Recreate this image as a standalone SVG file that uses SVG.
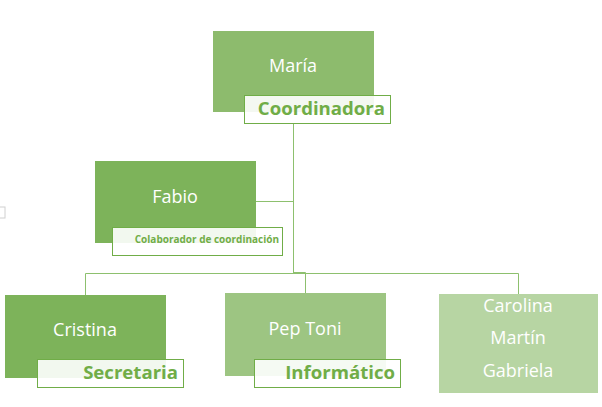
<svg xmlns="http://www.w3.org/2000/svg" width="602" height="407" viewBox="0 0 602 407">
<style>
.name{font-family:"Open Sans","Noto Sans","Liberation Sans",sans-serif;font-size:18px;fill:#ffffff;text-anchor:middle}
.lbl{fill:#ffffff;fill-opacity:0.9;stroke:#70AD47;stroke-width:1}
.lt{font-family:"Open Sans","Noto Sans","Liberation Sans",sans-serif;font-weight:bold;font-size:18.6px;fill:#70AD47;text-anchor:end}
.conn{fill:none;stroke:#8DC06E;stroke-width:1}
</style>
<rect width="602" height="407" fill="#ffffff"/>
<rect x="-5" y="207" width="10" height="11" fill="none" stroke="#d0d0d0" stroke-width="1"/>
<g id="connectors">
<path class="conn" d="M293.5,123 V273.5"/>
<path class="conn" d="M256,201.5 H293.5"/>
<path class="conn" d="M85.5,295 V273.5 H518.5 V294"/>
<path class="conn" d="M293.5,272.5 H305.5 V293"/>
</g>
<g id="maria">
<rect x="213" y="31" width="161" height="81" fill="#8DBB6D"/>
<text class="name" x="293" y="72">María</text>
<rect class="lbl" x="244.5" y="95.5" width="146" height="28"/>
<text class="lt" x="385" y="115">Coordinadora</text>
</g>
<g id="fabio">
<rect x="95" y="161" width="161" height="82" fill="#7DB35A"/>
<text class="name" x="175" y="203">Fabio</text>
<rect class="lbl" x="112.5" y="227.5" width="170" height="28"/>
<text class="lt" x="279" y="243" style="font-size:10px">Colaborador de coordinación</text>
</g>
<g id="cristina">
<rect x="5" y="295" width="161" height="83" fill="#7DB35A"/>
<text class="name" x="85" y="336">Cristina</text>
<rect class="lbl" x="37.5" y="359.5" width="146" height="28"/>
<text class="lt" x="178" y="379">Secretaria</text>
</g>
<g id="peptoni">
<rect x="225" y="293" width="161" height="83" fill="#9DC582"/>
<text class="name" x="305" y="335">Pep Toni</text>
<rect class="lbl" x="254.5" y="359.5" width="146" height="28"/>
<text class="lt" x="395" y="379">Informático</text>
</g>
<g id="carolina">
<rect x="439" y="294" width="159" height="99" fill="#B7D5A3"/>
<text class="name" x="518" y="312">Carolina</text>
<text class="name" x="518" y="344">Martín</text>
<text class="name" x="518" y="377">Gabriela</text>
</g>
</svg>
